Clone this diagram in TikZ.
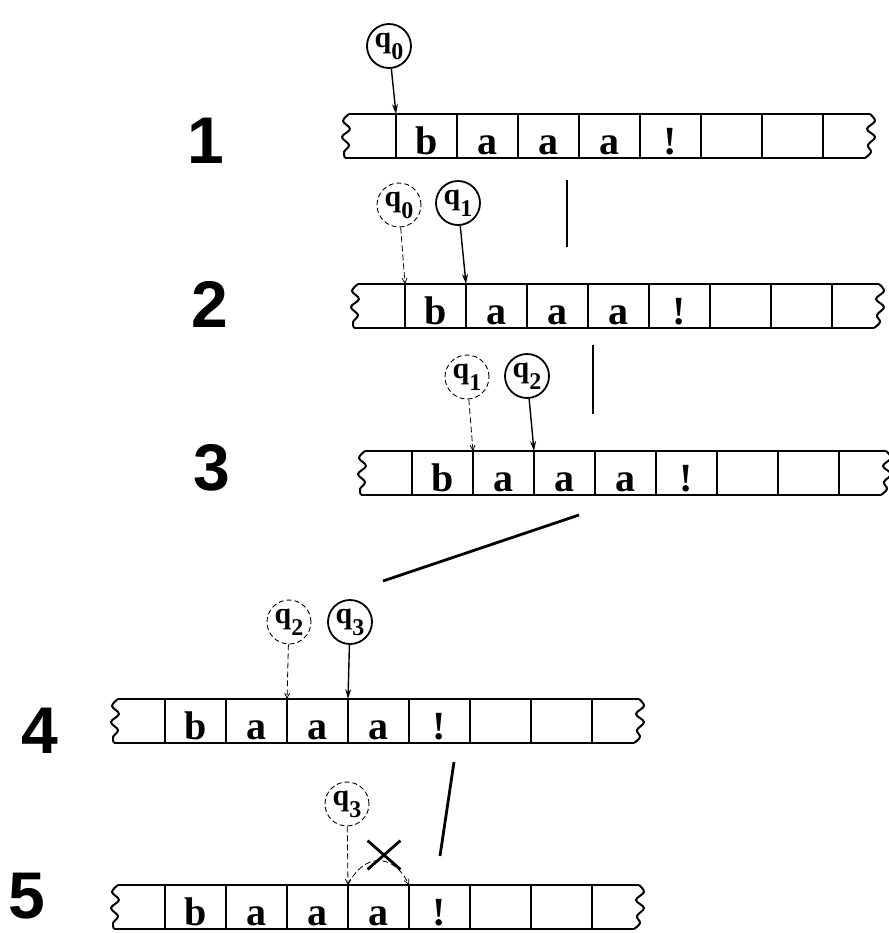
\documentclass[tikz,border=0pt]{standalone}
\usepackage{fontspec}
\setmainfont{Liberation Serif}
\newfontfamily\stepfont{Liberation Sans}
\usepackage{tikz}
\usetikzlibrary{arrows.meta,shapes.misc}
\newcommand{\qlab}[1]{q\raisebox{-6pt}{\fontsize{12}{12}\selectfont #1}}
\newcommand{\tape}[3]{%
  \begin{scope}[shift={(#2,#3)}]
    \draw[tapeline] (0,0) -- (521,0);
    \draw[tapeline] (-4,44) -- (516,44);
    \draw[tapeline] plot[smooth,tension=0.6] coordinates {(0,0) (-6,7) (1,15) (-7,23) (0,31) (-5,38) (-4,44)};
    \draw[tapeline] plot[smooth,tension=0.6] coordinates {(521,0) (526,7) (518,15) (526,23) (519,31) (522,38) (516,44)};
    \foreach \k in {0,...,7} \draw[tapeline] (47+61*\k,0) coordinate (#1-\k) -- ++(0,44);
    \foreach \c [count=\k] in {b,a,a,a,!} \node[sym] (#1-c\k) at (16.5+61*\k,40) {\c};
  \end{scope}}

\begin{document}
\begin{tikzpicture}[
  x=0.5pt,y=-0.5pt,
  tapeline/.style={line width=1pt,line join=round},
  sym/.style={anchor=base,inner sep=0pt,font=\fontsize{20}{22}\selectfont\bfseries},
  stepnum/.style={anchor=base,inner sep=0pt,font=\stepfont\fontsize{33}{36}\selectfont\bfseries},
  state/.style={circle,draw,line width=0.9pt,minimum size=22pt,inner sep=0pt,font=\fontsize{15}{15}\selectfont\bfseries},
  ghost/.style={state,line width=0.45pt,dash pattern=on 2.5pt off 1.5pt},
  move/.style={-{Stealth[length=5pt,width=3pt]},line width=0.7pt},
  trail/.style={-{Straight Barb[length=2.5pt,width=2.5pt]},line width=0.4pt,dash pattern=on 3pt off 1.5pt},
  sep/.style={line width=1.4pt}
]
  \useasboundingbox (0,0) rectangle (889,933);

  \node[stepnum] (n1) at (206,163) {1};
  \node[stepnum] (n2) at (210,327) {2};
  \node[stepnum] (n3) at (212,490) {3};
  \node[stepnum] (n4) at (40,753) {4};
  \node[stepnum] (n5) at (27,918) {5};

  \tape{t1}{349}{114}
  \tape{t2}{358}{284}
  \tape{t3}{365}{451}
  \tape{t4}{118}{699}
  \tape{t5}{118}{885}

  \node[state] (q0a) at (389,46) {\qlab{0}};
  \node[ghost] (q0b) at (399,205) {\qlab{0}};
  \node[state] (q1b) at (458,203) {\qlab{1}};
  \node[ghost] (q1c) at (467,377) {\qlab{1}};
  \node[state] (q2c) at (527,376) {\qlab{2}};
  \node[ghost] (q2d) at (289,622) {\qlab{2}};
  \node[state] (q3d) at (350,622) {\qlab{3}};
  \node[ghost] (q3e) at (347,804) {\qlab{3}};
  \node[draw,cross out,line width=1.4pt,minimum width=15pt,minimum height=13pt,inner sep=0pt] (nogo) at (384,855) {};

  \coordinate (s1a) at (567,180);
  \coordinate (s1b) at (567,247);
  \coordinate (s2a) at (593,345);
  \coordinate (s2b) at (593,414);
  \coordinate (s3a) at (579,515);
  \coordinate (s3b) at (383,581);
  \coordinate (s4a) at (454,762);
  \coordinate (s4b) at (440,856);

  \draw[move] (q0a) -- (t1-0);
  \draw[trail] (q0b) -- (t2-0);
  \draw[move] (q1b) -- (t2-1);
  \draw[trail] (q1c) -- (t3-1);
  \draw[move] (q2c) -- (t3-2);
  \draw[trail] (q2d) -- (t4-2);
  \draw[move] (q3d) -- (t4-3);
  \draw[trail] (q3e) -- (t5-3);
  \draw[trail] (t5-3) to[out=65,in=115,looseness=1.5] (t5-4);

  \draw[sep] (s1a) -- (s1b);
  \draw[sep] (s2a) -- (s2b);
  \draw[sep] (s3a) -- (s3b);
  \draw[sep] (s4a) -- (s4b);
\end{tikzpicture}
\end{document}
